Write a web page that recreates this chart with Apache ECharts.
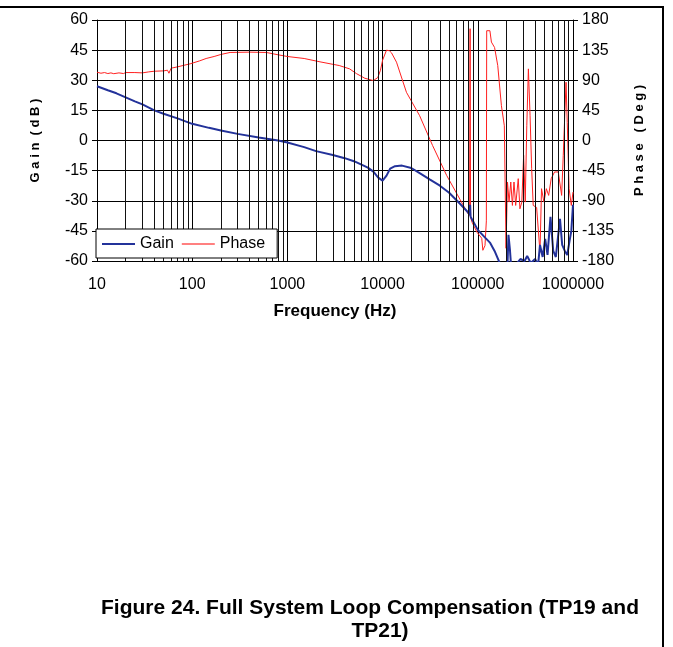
<!DOCTYPE html>
<html>
<head>
<meta charset="utf-8">
<script src="https://cdn.jsdelivr.net/npm/echarts@6/dist/echarts.min.js"></script>
<style>
html,body{margin:0;padding:0;background:#fff;}
#chart{width:673px;height:647px;}
</style>
</head>
<body>
<div id="chart"></div>
<script>
// ---- data ----
const gainFreq = [10,13,16,20,25,30,40,50,70,100,150,200,300,500,800,1000,1500,2000,3000,4000,5000,6000,7000,8000,9000,10000,11000,12000,13500,16000,20000,25000,31500,40000,50000,65000,78000,82000,83000,84000,100000,120000,135000,150000,170000,190000,205000,210000,218000,225000,250000,280000,310000,330000,360000,400000,430000,450000,480000,510000,540000,580000,620000,660000,730000,770000,820000,870000,920000,960000,1000000];
const gainDb = [27,25,23.5,21.5,19.5,18,15,13.3,11,8.3,6.3,5,3.3,1.5,0,-1,-3.3,-5.3,-7.2,-8.8,-10.3,-12,-13.5,-15.5,-18.5,-20,-17.5,-14,-12.8,-12.5,-13.7,-16.5,-19.5,-22.5,-26,-31.5,-35.5,-37,-32,-38,-44.5,-48.5,-51,-55,-61,-66,-62,-47,-55,-64,-62,-59,-60,-57.5,-61,-59,-62,-52,-58,-49,-57,-38,-55,-58,-39,-52,-55,-57,-50,-45,-32];

const phaseFreq = [10,11,12,13,14,15,17,19,20,25,30,35,40,50,55,57,60,70,80,95,120,140,170,200,250,400,600,800,1000,1500,2200,3500,4500,5300,6500,8000,8900,9500,10000,11000,11800,12400,14000,17800,24500,33500,47000,65000,78000,82000,83000,84000,87000,98000,110000,113000,119000,123000,124000,134000,139000,150000,162000,177000,190000,198000,205000,213000,222000,231000,240000,250000,266000,277000,290000,303000,315000,327000,340000,354000,368000,382000,415000,450000,467000,495000,525000,555000,590000,640000,700000,760000,790000,845000,870000,910000,960000,1000000];
const phaseDeg = [102,100.5,101.5,100,101,99.8,101,100,101.5,101.5,101,102.5,103.5,104,105,100.5,108,110,112,114.5,119,122.5,125.5,128.5,131.5,132,131.5,128,125.5,122.5,117.5,112,107,100,93,89.5,94,105,120,135,134,131,117,72,37,-7.5,-52,-88,-108,-112,167,-115,-122,-137,-146,-164,-157,-120,164,164,147,139,112,52,22,-161,-62,-92,-62,-97,-62,-97,-57,-102,-92,-22,-92,22,107,37,-42,-97,-100,-167,-72,-92,-72,-82,-57,-47,-47,-82,-22,87,27,-72,-97,-77];

const gainTicks = [-60,-45,-30,-15,0,15,30,45,60];
const phaseTicks = [-180,-135,-90,-45,0,45,90,135,180];
const freqTicks = [10,100,1000,10000,100000,1000000];
const minorFreq = [];
for (let d = 10; d < 1000000; d *= 10) for (let k = 2; k <= 9; k++) minorFreq.push(k * d);

const seriesNames = ['Gain', 'Phase'];
const axisNames = ['G a i n  ( d B )', 'P h a s e   ( D e g )', 'Frequency (Hz)'];
const captionLines = ['Figure 24. Full System Loop Compensation (TP19 and', 'TP21)'];

// ---- chart ----
const FONT = 'Liberation Sans, Arial, sans-serif';
const chart = echarts.init(document.getElementById('chart'), null, {renderer: 'canvas'});
const zip = (a, b) => a.map((v, i) => [v, b[i]]);

chart.setOption({
  animation: false,
  backgroundColor: '#fff',
  textStyle: {fontFamily: FONT},
  grid: {left: 97, right: 100, top: 20, height: 241},
  legend: {
    data: seriesNames,
    left: 96, top: 229,
    orient: 'horizontal',
    icon: 'rect',
    backgroundColor: '#fff',
    borderColor: '#000', borderWidth: 1, borderRadius: 0,
    padding: [6, 12, 5, 6],
    itemWidth: 33, itemHeight: 2, itemGap: 8,
    textStyle: {fontSize: 16, color: '#000', fontFamily: FONT, lineHeight: 18},
    z: 10
  },
  xAxis: {
    type: 'log', logBase: 10, min: freqTicks[0], max: freqTicks[freqTicks.length - 1],
    splitNumber: 5,
    name: axisNames[2], nameLocation: 'middle', nameGap: 42,
    nameTextStyle: {fontSize: 17, fontWeight: 'bold', color: '#000', fontFamily: FONT, verticalAlign: 'top'},
    axisLine: {show: true, lineStyle: {color: '#000', width: 1}},
    axisTick: {show: true, length: 5, lineStyle: {color: '#000'}},
    axisLabel: {fontSize: 16, color: '#000', margin: 16, formatter: v => String(Math.round(v))},
    splitLine: {show: true, lineStyle: {color: '#000', width: 1}},
    minorTick: {show: false}, minorSplitLine: {show: false}
  },
  yAxis: [{
    type: 'value', min: gainTicks[0], max: gainTicks[gainTicks.length - 1], interval: 15,
    position: 'left',
    name: axisNames[0], nameLocation: 'middle', nameGap: 55, nameRotate: 90,
    nameTextStyle: {fontSize: 13, fontWeight: 'bold', color: '#000', fontFamily: FONT},
    axisLine: {show: true, lineStyle: {color: '#000', width: 1}},
    axisTick: {show: true, length: 5, inside: false, lineStyle: {color: '#000'}},
    axisLabel: {fontSize: 16, color: '#000', margin: 9},
    splitLine: {show: true, lineStyle: {color: '#000', width: 1}}
  }, {
    type: 'value', min: phaseTicks[0], max: phaseTicks[phaseTicks.length - 1], interval: 45,
    position: 'right',
    name: axisNames[1], nameLocation: 'middle', nameGap: 60, nameRotate: 90,
    nameTextStyle: {fontSize: 13, fontWeight: 'bold', color: '#000', fontFamily: FONT},
    axisLine: {show: true, lineStyle: {color: '#000', width: 1}},
    axisTick: {show: true, length: 5, inside: false, lineStyle: {color: '#000'}},
    axisLabel: {fontSize: 16, color: '#000', margin: 9},
    splitLine: {show: false}
  }],
  series: [{
    name: 'grid-minor', type: 'line', data: [], silent: true, z: 1,
    markLine: {
      silent: true, symbol: 'none', animation: false,
      label: {show: false},
      lineStyle: {color: '#111', type: 'solid', width: 1},
      data: minorFreq.map(f => ({xAxis: f}))
    }
  }, {
    name: seriesNames[0], type: 'line', yAxisIndex: 0, z: 3,
    data: zip(gainFreq, gainDb), symbol: 'none', showSymbol: false,
    lineStyle: {color: '#23329a', width: 2}, itemStyle: {color: '#23329a'}, clip: true
  }, {
    name: seriesNames[1], type: 'line', yAxisIndex: 1, z: 2,
    data: zip(phaseFreq, phaseDeg), symbol: 'none', showSymbol: false,
    lineStyle: {color: '#ff2020', width: 1}, itemStyle: {color: '#ff8080'}, clip: true
  }],
  graphic: [
    {type: 'line', shape: {x1: 0, y1: 7, x2: 664, y2: 7}, style: {stroke: '#000', lineWidth: 2}},
    {type: 'line', shape: {x1: 663, y1: 7, x2: 663, y2: 647}, style: {stroke: '#000', lineWidth: 2}},
    {type: 'text', x: 370, y: 608, style: {text: captionLines[0], font: 'bold 21px ' + FONT, fill: '#000', textAlign: 'center', textVerticalAlign: 'middle'}},
    {type: 'text', x: 380, y: 631, style: {text: captionLines[1], font: 'bold 21px ' + FONT, fill: '#000', textAlign: 'center', textVerticalAlign: 'middle'}}
  ]
});
</script>
</body>
</html>
